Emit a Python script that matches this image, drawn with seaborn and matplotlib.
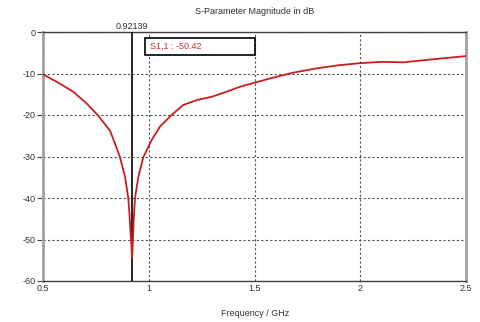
import matplotlib
matplotlib.use("Agg")
import matplotlib.pyplot as plt
import seaborn as sns
from matplotlib.patches import Rectangle

freq = [0.5, 0.565, 0.643, 0.706, 0.762, 0.817, 0.840, 0.864, 0.888, 0.903, 0.909,
        0.914, 0.918, 0.9214, 0.925, 0.929, 0.935, 0.951, 0.974, 1.014, 1.053, 1.108,
        1.163, 1.227, 1.298, 1.368, 1.431, 1.502, 1.573, 1.683, 1.8, 1.9, 2.0, 2.1,
        2.204, 2.3, 2.4, 2.5]
s11 = [-10.2, -12.0, -14.4, -17.2, -20.2, -23.8, -26.8, -30.2, -34.9, -40.0, -44.0,
       -48.5, -51.5, -54.5, -50.5, -45.0, -40.0, -34.9, -30.2, -26.0, -22.8, -20.0,
       -17.6, -16.4, -15.6, -14.4, -13.2, -12.2, -11.2, -9.8, -8.7, -8.0, -7.5, -7.2,
       -7.3, -6.8, -6.3, -5.8]

x_ticks = [0.5, 1, 1.5, 2, 2.5]
x_tick_labels = ["0.5", "1", "1.5", "2", "2.5"]
y_ticks = [0, -10, -20, -30, -40, -50, -60]
y_tick_labels = ["0", "-10", "-20", "-30", "-40", "-50", "-60"]
marker_freq = 0.92139
marker_label = "0.92139"
marker_text = "S1,1 : -50.42"
title = "S-Parameter Magnitude in dB"
xlabel = "Frequency / GHz"

sns.set_style("white")
plt.rcParams["font.family"] = ["Liberation Sans", "DejaVu Sans"]

fig = plt.figure(figsize=(4.8, 3.22), dpi=100)
ax = fig.add_axes([43 / 480, 1 - 281 / 322, 423 / 480, 249 / 322])

sns.lineplot(x=freq, y=s11, ax=ax, color="#c81e1e", linewidth=1.3, estimator=None,
             sort=False, zorder=4)

ax.set_xlim(0.5, 2.5)
ax.set_ylim(-60, 0)
ax.set_xticks(x_ticks)
ax.set_xticklabels(x_tick_labels)
ax.set_yticks(y_ticks)
ax.set_yticklabels(y_tick_labels)
ax.tick_params(axis="y", left=True, labelsize=6.5, labelcolor="#303030", colors="#404040",
               length=4, width=0.8, direction="out", pad=1)
ax.tick_params(axis="x", bottom=True, length=0, labelsize=6.5, labelcolor="#303030",
               pad=2)

ax.grid(True, linestyle=(0, (2, 2)), color="#505050", linewidth=0.8)
ax.set_axisbelow(True)

for side in ["left", "right"]:
    ax.spines[side].set_color("#a0a0a0")
    ax.spines[side].set_linewidth(2)
    ax.spines[side].set_visible(True)
for side in ["top", "bottom"]:
    ax.spines[side].set_color("#404040")
    ax.spines[side].set_linewidth(1.0)
    ax.spines[side].set_visible(True)

ax.axvline(marker_freq, color="black", linewidth=1.2, zorder=3)
ax.text(marker_freq, 0.3, marker_label, ha="center", va="bottom", fontsize=6.5,
        color="#303030")

ax.add_patch(Rectangle((0.242, 0.908), 0.258, 0.068, transform=ax.transAxes,
                       fill=True, facecolor="white", edgecolor="black", linewidth=1.2,
                       zorder=5))
ax.text(0.253, 0.942, marker_text, transform=ax.transAxes, ha="left", va="center",
        fontsize=6.5, color="#c03030", zorder=6)

ax.set_xlabel("")
ax.set_ylabel("")
fig.text(255 / 480, 1 - 313 / 322, xlabel, ha="center", va="center", fontsize=6.5,
         color="#303030")
fig.text(255 / 480, 1 - 12 / 322, title, ha="center", va="center", fontsize=6.5,
         color="#303030")

fig.savefig("out.png", dpi=100, facecolor="white")
